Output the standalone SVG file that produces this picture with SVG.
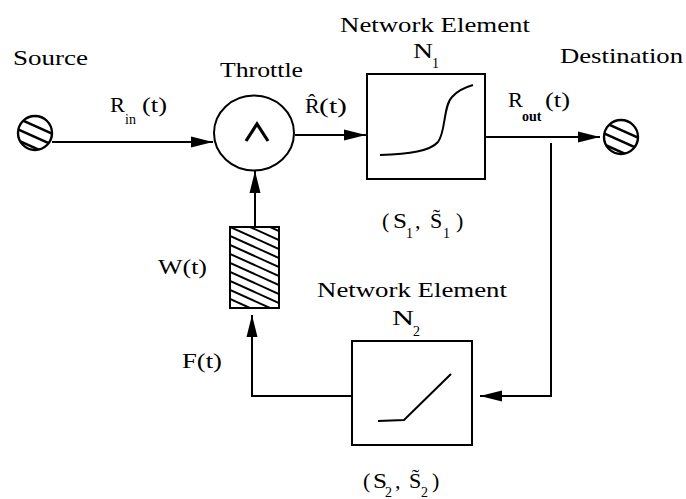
<svg xmlns="http://www.w3.org/2000/svg" width="686" height="499" viewBox="0 0 686 499">
<style>
text{font-family:"Liberation Serif","Times New Roman",serif;fill:#000}
.lb{font-size:22px}
.sb{font-size:14px}
.ln{fill:none;stroke:#000;stroke-width:2}
.hl{stroke:#000;stroke-width:2.6}
.hw{stroke:#000;stroke-width:2}
.bx{fill:#fff;stroke:#000;stroke-width:2}
</style>
<defs>
<marker id="ah" markerUnits="userSpaceOnUse" markerWidth="24" markerHeight="12" refX="22" refY="6" orient="auto">
<path d="M0,0.5 L22,6 L0,11.5 Z" fill="#000"/>
</marker>
<clipPath id="cs"><circle cx="35" cy="133" r="17"/></clipPath>
<clipPath id="cd"><circle cx="621" cy="137" r="17"/></clipPath>
<clipPath id="cw"><rect x="230" y="227" width="49" height="81"/></clipPath>
</defs>

<g id="connectors">
<path class="ln" d="M52,142 H213" marker-end="url(#ah)"/>
<path class="ln" d="M295,135 H366" marker-end="url(#ah)"/>
<path class="ln" d="M485,137 H600" marker-end="url(#ah)"/>
<path class="ln" d="M551,143 V396 H480" marker-end="url(#ah)"/>
<path class="ln" d="M352,396 H252 V315" marker-end="url(#ah)"/>
<path class="ln" d="M255,227 V171" marker-end="url(#ah)"/>
</g>

<g id="source">
<circle cx="35" cy="133" r="17" fill="#fff" stroke="#000" stroke-width="2.4"/>
<g clip-path="url(#cs)">
<line class="hl" x1="15" y1="117" x2="55" y2="135"/>
<line class="hl" x1="15" y1="128" x2="55" y2="146"/>
<line class="hl" x1="15" y1="139" x2="55" y2="157"/>
</g>
<text class="lb" x="13" y="65" textLength="75" lengthAdjust="spacingAndGlyphs">Source</text>
</g>

<g id="throttle">
<ellipse cx="254" cy="133" rx="40" ry="37.5" fill="#fff" stroke="#000" stroke-width="2"/>
<path d="M246,141 L257,124 L268,141" fill="none" stroke="#000" stroke-width="3.2"/>
<text class="lb" x="220" y="77" textLength="83" lengthAdjust="spacingAndGlyphs">Throttle</text>
</g>

<g id="n1">
<rect class="bx" x="367" y="74" width="118" height="105"/>
<path class="ln" d="M380,155 C410,154 430,151 438,142 C446,132 443,106 452,97 C458,90 466,87 473,85"/>
<text class="lb" x="340" y="32" textLength="190" lengthAdjust="spacingAndGlyphs">Network Element</text>
<text class="lb" x="413" y="58" textLength="20" lengthAdjust="spacingAndGlyphs">N</text>
<text class="sb" x="432" y="68">1</text>
<text class="lb" x="382" y="228">(</text>
<text class="lb" x="393" y="228" textLength="14" lengthAdjust="spacingAndGlyphs">S</text>
<text class="sb" x="406" y="238">1</text>
<text class="lb" x="415" y="228">,</text>
<text class="lb" x="430" y="228">S̃</text>
<text class="sb" x="443" y="238">1</text>
<text class="lb" x="456" y="228">)</text>
</g>

<g id="destination">
<circle cx="621" cy="137" r="17" fill="#fff" stroke="#000" stroke-width="2.4"/>
<g clip-path="url(#cd)">
<line class="hl" x1="601" y1="121" x2="641" y2="139"/>
<line class="hl" x1="601" y1="132" x2="641" y2="150"/>
<line class="hl" x1="601" y1="143" x2="641" y2="161"/>
</g>
<text class="lb" x="560" y="63" textLength="123" lengthAdjust="spacingAndGlyphs">Destination</text>
</g>

<g id="window">
<rect x="230" y="227" width="49" height="81" fill="#fff" stroke="#000" stroke-width="2"/>
<g clip-path="url(#cw)">
<line class="hw" x1="230" y1="200" x2="279" y2="222"/>
<line class="hw" x1="230" y1="209" x2="279" y2="231"/>
<line class="hw" x1="230" y1="218" x2="279" y2="240"/>
<line class="hw" x1="230" y1="227" x2="279" y2="249"/>
<line class="hw" x1="230" y1="236" x2="279" y2="258"/>
<line class="hw" x1="230" y1="245" x2="279" y2="267"/>
<line class="hw" x1="230" y1="254" x2="279" y2="276"/>
<line class="hw" x1="230" y1="263" x2="279" y2="285"/>
<line class="hw" x1="230" y1="272" x2="279" y2="294"/>
<line class="hw" x1="230" y1="281" x2="279" y2="303"/>
<line class="hw" x1="230" y1="290" x2="279" y2="312"/>
<line class="hw" x1="230" y1="299" x2="279" y2="321"/>
</g>
<rect x="230" y="227" width="49" height="81" fill="none" stroke="#000" stroke-width="2"/>
<text class="lb" x="158" y="274" textLength="49" lengthAdjust="spacingAndGlyphs">W(t)</text>
</g>

<g id="n2">
<rect class="bx" x="352" y="341" width="120" height="104"/>
<path class="ln" d="M378,421 L404,420 L451,374"/>
<text class="lb" x="317" y="297" textLength="190" lengthAdjust="spacingAndGlyphs">Network Element</text>
<text class="lb" x="392" y="325" textLength="22" lengthAdjust="spacingAndGlyphs">N</text>
<text class="sb" x="413" y="336">2</text>
<text class="lb" x="363" y="488">(</text>
<text class="lb" x="373" y="488" textLength="14" lengthAdjust="spacingAndGlyphs">S</text>
<text class="sb" x="385" y="497">2</text>
<text class="lb" x="395" y="488">,</text>
<text class="lb" x="409" y="488">S̃</text>
<text class="sb" x="421" y="497">2</text>
<text class="lb" x="432" y="488">)</text>
</g>

<g id="labels">
<text class="lb" x="110" y="112" textLength="15" lengthAdjust="spacingAndGlyphs">R</text>
<text class="sb" x="125" y="124">in</text>
<text class="lb" x="142" y="112" textLength="25" lengthAdjust="spacingAndGlyphs">(t)</text>
<text class="lb" x="305" y="113">R̂</text>
<text class="lb" x="319" y="113" textLength="28" lengthAdjust="spacingAndGlyphs">(t)</text>
<text class="lb" x="508" y="107" textLength="15" lengthAdjust="spacingAndGlyphs">R</text>
<text class="sb" x="522" y="121" font-weight="bold">out</text>
<text class="lb" x="545" y="107" textLength="25" lengthAdjust="spacingAndGlyphs">(t)</text>
<text class="lb" x="182" y="368" textLength="40" lengthAdjust="spacingAndGlyphs">F(t)</text>
</g>
</svg>
